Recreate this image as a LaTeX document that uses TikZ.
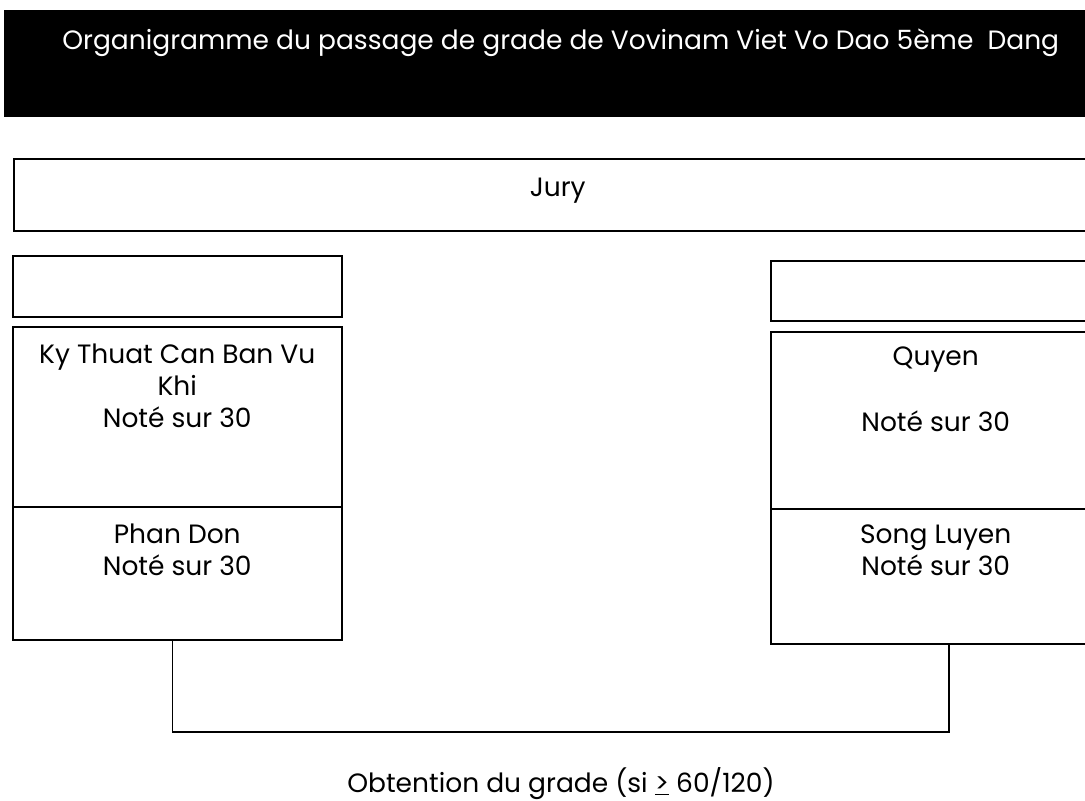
\documentclass[tikz,border=0pt]{standalone}
\usepackage{fontspec}
\setmainfont{Poppins}
\usetikzlibrary{positioning}
\tikzset{
	boite/.style={draw=black, line width=1.5pt, rectangle, anchor=north west, inner sep=0pt},
	texte/.style={align=center, font=\fontsize{26.5}{32}\selectfont, inner sep=0pt, anchor=north},
	liaison/.style={draw=black, line width=1.5pt},
}

\begin{document}
\begin{tikzpicture}[x=1pt, y=-1pt]
		\useasboundingbox (0,0) rectangle (1085,801);
		% bandeau du titre
		\node[boite, fill=black, minimum width=1112pt, minimum height=105pt] (titre) at (4,10) {};
		\node[texte, text=white, below=19pt of titre.north] (titretxt) {Organigramme du passage de grade de Vovinam Viet Vo Dao 5ème~~Dang};

		\node[boite, minimum width=1088pt, minimum height=72pt] (jury) at (13,158) {};
		\node[texte, below=20pt of jury.north] (jurytxt) {Jury};

		% colonne gauche
		\node[boite, minimum width=329pt, minimum height=61pt] (videg) at (12,255) {};
		\node[boite, minimum width=329pt, minimum height=180pt] (kythuat) at (12,326) {};
		\node[boite, minimum width=329pt, minimum height=133pt] (phandon) at (12,506) {};
		\node[texte, below=18pt of kythuat.north] (kythuattxt) {Ky Thuat Can Ban Vu\\Khi\\Noté sur 30};
		\node[texte, below=18pt of phandon.north] (phandontxt) {Phan Don\\Noté sur 30};

		% colonne droite
		\node[boite, minimum width=330pt, minimum height=60pt] (vided) at (770,260) {};
		\node[boite, minimum width=330pt, minimum height=177pt] (quyen) at (770,331) {};
		\node[boite, minimum width=330pt, minimum height=135pt] (songluyen) at (770,508) {};
		\node[texte, below=16pt of quyen.north] (quyentxt) {Quyen\\[34pt]Noté sur 30};
		\node[texte, below=17pt of songluyen.north] (songluyentxt) {Song Luyen\\Noté sur 30};

		% resultat
		\coordinate (jonction) at (560,732);
		\draw[liaison] ([xshift=-5pt]phandon.south) |- (jonction) -| ([xshift=13pt]songluyen.south);
		\node[texte, anchor=center] (resultat) at (561,784) {Obtention du grade (si \underline{>} 60/120)};
\end{tikzpicture}
\end{document}
